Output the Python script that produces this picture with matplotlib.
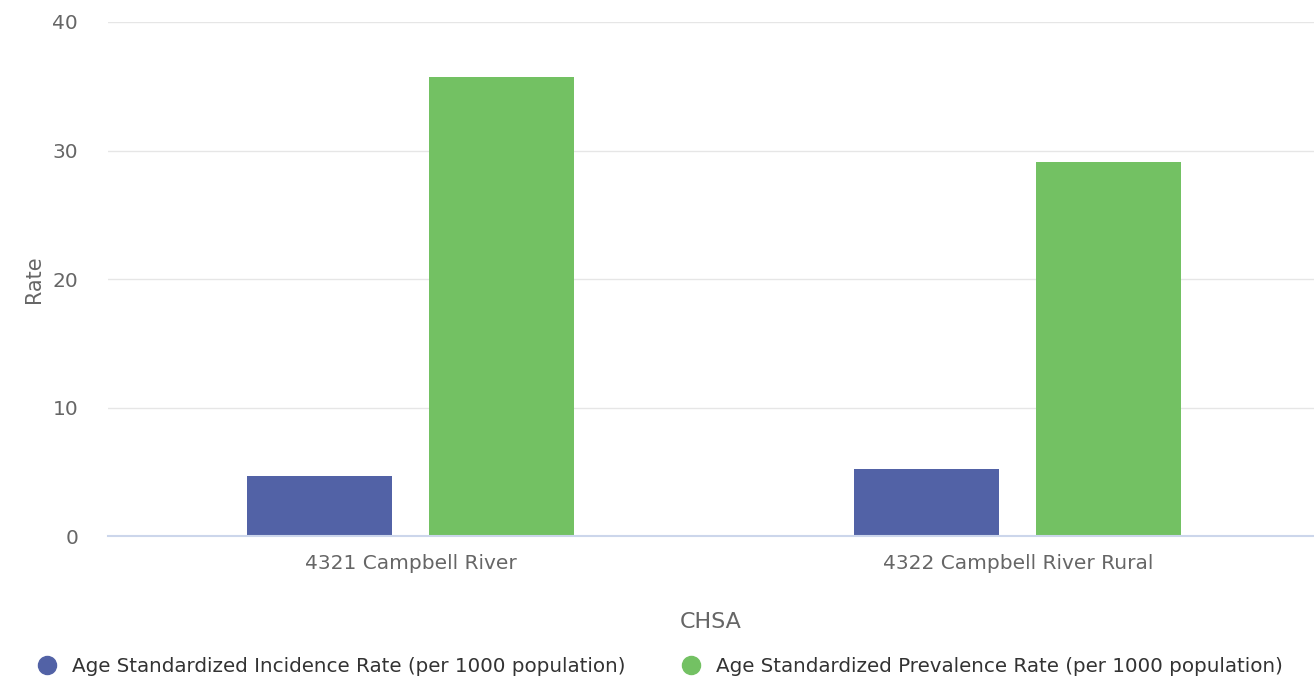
import numpy as np
import matplotlib.pyplot as plt
from matplotlib.lines import Line2D

categories = ['4321 Campbell River', '4322 Campbell River Rural']
incidence = [4.7, 5.2]
prevalence = [35.7, 29.1]
series_names = ['Age Standardized Incidence Rate (per 1000 population)',
                'Age Standardized Prevalence Rate (per 1000 population)']
colors = ['#5262a6', '#73c163']

fig = plt.figure(figsize=(13.14, 6.79), dpi=100)
ax = fig.add_axes([0.0822, 0.2106, 0.9178, 0.757])

x = np.arange(len(categories))
w = 0.239
ax.bar(x - 0.150, incidence, w, color=colors[0])
ax.bar(x + 0.150, prevalence, w, color=colors[1])

ax.set_xlim(-0.499, 1.488)
ax.set_ylim(0, 40)
ax.set_yticks([0, 10, 20, 30, 40])
ax.set_xticks(x)
ax.set_xticklabels(categories)
ax.grid(axis='y', color='#e6e6e6', linewidth=1)
ax.set_axisbelow(True)
for s in ['top', 'right', 'left']:
    ax.spines[s].set_visible(False)
ax.spines['bottom'].set_color('#ccd6eb')
ax.spines['bottom'].set_linewidth(1.5)
ax.tick_params(axis='both', length=0, colors='#666666', labelsize=14.5)
ax.tick_params(axis='y', pad=21.5)
ax.tick_params(axis='x', pad=13)
ax.set_ylabel('Rate', color='#666666', fontsize=15, labelpad=6)
ax.set_xlabel('CHSA', color='#666666', fontsize=16, labelpad=28)

handles = [Line2D([], [], marker='o', linestyle='none', markersize=13,
                  markerfacecolor=c, markeredgecolor=c) for c in colors]
fig.legend(handles, series_names, loc='center', bbox_to_anchor=(0.503, 1 - 666 / 679),
           ncol=2, frameon=False, fontsize=14.3, handlelength=0.8, handletextpad=0.85,
           columnspacing=2.9, labelcolor='#333333')

fig.savefig('out.png', dpi=100)
